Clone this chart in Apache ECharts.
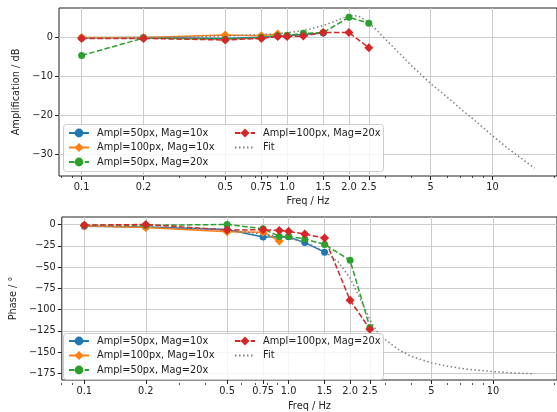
<!DOCTYPE html>
<html><head><meta charset="utf-8">
<script src="https://cdn.jsdelivr.net/npm/echarts@6/dist/echarts.min.js"></script>
<style>html,body{margin:0;padding:0;background:#fff}#c{width:557px;height:412px}</style>
</head><body><div id="c"></div>
<script>
// ---- axis ticks ----
const tickFreqs  = [0.1, 0.2, 0.5, 0.75, 1.0, 1.5, 2.0, 2.5, 5, 10];
const tickLabels = ['0.1', '0.2', '0.5', '0.75', '1.0', '1.5', '2.0', '2.5', '5', '10'];
const minorFreqs = [0.08, 0.09, 0.3, 0.4, 0.6, 0.7, 0.8, 0.9, 3, 4, 6, 7, 8, 9, 20];
const ampTicks   = [0, -10, -20, -30];
const phaseTicks = [0, -25, -50, -75, -100, -125, -150, -175];

// ---- series names ----
const names = ['Ampl=50px, Mag=10x', 'Ampl=100px, Mag=10x', 'Ampl=50px, Mag=20x', 'Ampl=100px, Mag=20x', 'Fit'];

// ---- measured data ----
const freqBlue   = [0.1, 0.2, 0.5, 0.75, 1.0, 1.2, 1.5];
const ampBlue    = [-0.1, 0.0, -0.2, 0.1, 0.5, 0.8, 1.2];
const phaseBlue  = [-2, -3, -6, -14.8, -14.5, -21.3, -32.5];

const freqOrange  = [0.1, 0.2, 0.5, 0.75, 0.9];
const ampOrange   = [0.0, 0.0, 0.7, 0.5, 0.9];
const phaseOrange = [-1.5, -3.5, -8.5, -9, -19.5];

const freqGreen  = [0.1, 0.2, 0.5, 0.75, 0.9, 1.0, 1.2, 1.5, 2.0, 2.5];
const ampGreen   = [-4.6, -0.1, -0.4, 0.0, 0.5, 0.6, 1.1, 1.3, 5.2, 3.7];
const phaseGreen = [-1, -1, 0, -5, -14, -14, -17, -23.5, -42, -121];

const freqRed  = [0.1, 0.2, 0.5, 0.75, 0.9, 1.0, 1.2, 1.5, 2.0, 2.5];
const ampRed   = [-0.2, -0.2, -0.6, -0.2, 0.3, 0.3, 0.4, 1.3, 1.3, -2.6];
const phaseRed = [-0.8, 0, -6.5, -6.2, -7, -8, -11.3, -15.8, -89, -123];

// ---- fit curve ----
const freqFitAmp = [0.1, 0.2, 0.3, 0.5, 0.75, 1.0, 1.25, 1.5, 1.75, 2.0, 2.1, 2.25, 2.5, 2.75, 3.0, 3.5, 4.0, 5.0, 6.0, 7.0, 8.0, 10, 12, 14, 16];
const ampFit     = [0.0, 0.05, 0.15, 0.4, 0.8, 1.2, 2.0, 3.1, 4.4, 5.5, 5.7, 5.4, 3.9, 1.7, -0.3, -3.9, -7.0, -11.8, -15.2, -18.3, -20.8, -25.2, -28.6, -31.2, -33.5];
const freqFitPh  = [0.1, 0.2, 0.3, 0.5, 0.75, 1.0, 1.25, 1.5, 1.75, 2.0, 2.25, 2.5, 2.75, 3.0, 3.5, 4.0, 5.0, 6.0, 7.0, 8.0, 10, 12, 14, 16];
const phaseFit   = [-1.3, -2.7, -4.1, -7.0, -11, -16, -22.5, -31.5, -44, -63, -88, -112, -128, -136, -148, -155, -162.5, -166.5, -169, -170.7, -172.8, -174, -174.9, -175.5];

const colors = ['#1f77b4', '#ff7f0e', '#2ca02c', '#d62728', '#808080'];
const FONT = 'DejaVu Sans';
const zip = (xs, ys) => xs.map((x, i) => [x, ys[i]]);
const dash = [5.5, 2.4];

function seriesFor(gi, sets) {
  const [b, o, g, r, f] = sets;
  const base = (name, data, ci, symbol, size, type) => ({
    name, type: 'line', data, xAxisIndex: gi, yAxisIndex: gi,
    symbol, symbolSize: size, showSymbol: symbol !== 'none',
    lineStyle: { color: colors[ci], width: 1.5, type },
    itemStyle: { color: colors[ci] },
    emphasis: { disabled: true }, silent: true, z: 2
  });
  return [
    base(names[0], b, 0, 'circle', 7, 'solid'),
    base(names[1], o, 1, 'diamond', 9, 'solid'),
    base(names[2], g, 2, 'circle', 7, dash),
    base(names[3], r, 3, 'diamond', 9, dash),
    base(names[4], f, 4, 'none', 0, [1.5, 2.5])
  ];
}

const xLabelFmt = v => {
  let best = 0, bd = 1e9;
  tickFreqs.forEach((t, i) => { const d = Math.abs(Math.log10(t) - Math.log10(v)); if (d < bd) { bd = d; best = i; } });
  return tickLabels[best];
};
const yLabelFmt = v => (v < 0 ? '\u2212' + Math.abs(v) : String(v));

const gridBoxes = [
  { left: 59, top: 8, width: 500, height: 168 },
  { left: 59, top: 217, width: 500, height: 166 }
];
const txt = { color: '#222', fontFamily: FONT, fontSize: 9.8 };

function mainX(gi, gap) {
  return {
    type: 'log', logBase: 10, gridIndex: gi, min: 0.0776, max: 20.6, position: 'bottom',
    name: 'Freq / Hz', nameLocation: 'middle', nameGap: gap, nameTextStyle: txt,
    axisLine: { show: false, onZero: false },
    axisTick: { show: true, inside: false, length: 4, customValues: tickFreqs, lineStyle: { color: '#222', width: 1 } },
    axisLabel: { show: true, margin: 6, customValues: tickFreqs, formatter: xLabelFmt, ...txt },
    splitLine: { show: true, lineStyle: { color: '#cccccc', width: 1 } }
  };
}
function minorX(gi) {
  return {
    type: 'log', logBase: 10, gridIndex: gi, min: 0.0776, max: 20.6, position: 'bottom',
    axisLine: { show: false, onZero: false },
    axisTick: { show: true, length: 2, customValues: minorFreqs, lineStyle: { color: '#222', width: 0.8 } },
    axisLabel: { show: false }, splitLine: { show: false }
  };
}
function hiddenY(gi) {
  return { type: 'value', gridIndex: gi, min: 0, max: 1, show: false };
}

const option = {
  backgroundColor: '#fff',
  animation: false,
  color: colors,
  grid: [
    ...gridBoxes.map(g => ({ ...g, show: true, borderColor: '#222', borderWidth: 1, backgroundColor: 'transparent' })),
    ...gridBoxes.map(g => ({ ...g, show: false }))
  ],
  xAxis: [mainX(0, 20), mainX(1, 21), minorX(2), minorX(3)],
  yAxis: [
    {
      type: 'value', gridIndex: 0, min: -35.5, max: 7.6,
      name: 'Amplification / dB', nameLocation: 'middle', nameGap: 27, nameRotate: 90, nameTextStyle: txt,
      axisLine: { show: false },
      axisTick: { show: true, length: 4, customValues: ampTicks, lineStyle: { color: '#222' } },
      axisLabel: { customValues: ampTicks, formatter: yLabelFmt, margin: 6, ...txt },
      splitLine: { show: true, lineStyle: { color: '#cccccc', width: 1 } }
    },
    {
      type: 'value', gridIndex: 1, min: -182.7, max: 8.8,
      name: 'Phase / \u00b0', nameLocation: 'middle', nameGap: 36, nameRotate: 90, nameTextStyle: txt,
      axisLine: { show: false },
      axisTick: { show: true, length: 4, customValues: phaseTicks, lineStyle: { color: '#222' } },
      axisLabel: { customValues: phaseTicks, formatter: yLabelFmt, margin: 6, ...txt },
      splitLine: { show: true, lineStyle: { color: '#cccccc', width: 1 } }
    },
    hiddenY(2), hiddenY(3)
  ],
  graphic: [
    { type: 'rect', z: 3, silent: true, shape: { x: 63.5, y: 124.5, width: 320, height: 47, r: 3 },
      style: { fill: 'rgba(255,255,255,0.8)', stroke: '#cccccc', lineWidth: 1 } },
    { type: 'rect', z: 3, silent: true, shape: { x: 63.5, y: 333.5, width: 320, height: 46, r: 3 },
      style: { fill: 'rgba(255,255,255,0.8)', stroke: '#cccccc', lineWidth: 1 } }
  ],
  legend: [
    [68, 127.5, names.slice(0, 3)], [234, 127.5, names.slice(3)],
    [68, 335.5, names.slice(0, 3)], [234, 335.5, names.slice(3)]
  ].map(([l, t, d]) => ({
    left: l, top: t, orient: 'vertical',
    data: d.map(n => n === 'Fit' ? { name: n, itemStyle: { opacity: 0 } } : n),
    padding: 0, itemGap: 3.5,
    itemWidth: 20, itemHeight: 11, selectedMode: false, z: 5,
    textStyle: { ...txt, lineHeight: 11, padding: [0, 0, 0, 3] }
  })),
  series: [
    ...seriesFor(0, [zip(freqBlue, ampBlue), zip(freqOrange, ampOrange), zip(freqGreen, ampGreen), zip(freqRed, ampRed), zip(freqFitAmp, ampFit)]),
    ...seriesFor(1, [zip(freqBlue, phaseBlue), zip(freqOrange, phaseOrange), zip(freqGreen, phaseGreen), zip(freqRed, phaseRed), zip(freqFitPh, phaseFit)])
  ]
};

const chart = echarts.init(document.getElementById('c'), null, { renderer: 'canvas' });
chart.setOption(option);
</script>
</body></html>
